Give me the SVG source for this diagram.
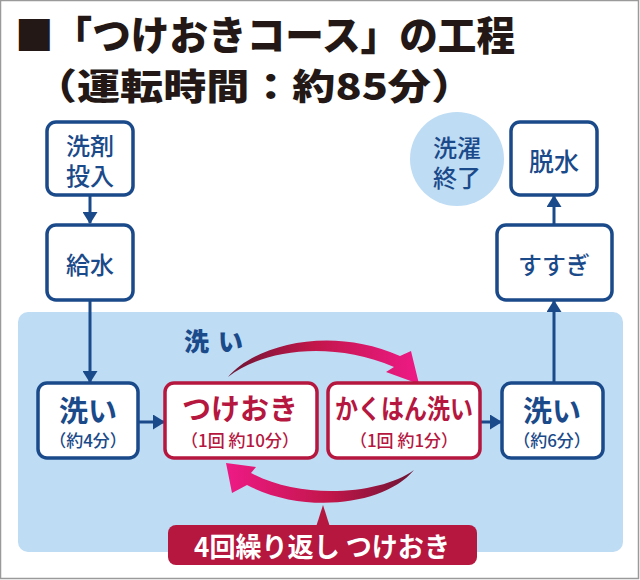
<svg xmlns="http://www.w3.org/2000/svg" width="640" height="580" viewBox="0 0 640 580">
<defs>
<style>
.t{font-family:"Noto Sans CJK JP","Noto Sans",sans-serif;dominant-baseline:central;text-anchor:middle}
.nb{fill:#fff;stroke:#1B4A8A;stroke-width:3.5}
.rb{fill:#fff;stroke:#B5173F;stroke-width:3.5}
.nt{fill:#1B4A8A;font-weight:700}
.rt{fill:#B5173F;font-weight:700}
.sub{font-weight:500;font-size:17px}
.con{stroke:#1B4A8A;stroke-width:3;fill:none;marker-end:url(#ah)}
</style>
<marker id="ah" markerUnits="userSpaceOnUse" markerWidth="12" markerHeight="15" refX="11" refY="7.5" orient="auto">
<path d="M0,0 L12,7.5 L0,15 z" fill="#1B4A8A"/>
</marker>
<linearGradient id="gTop" gradientUnits="userSpaceOnUse" x1="228" y1="0" x2="419" y2="0">
<stop offset="0" stop-color="#6E1534"/>
<stop offset="0.45" stop-color="#C2164A"/>
<stop offset="1" stop-color="#EE1A86"/>
</linearGradient>
<linearGradient id="gBot" gradientUnits="userSpaceOnUse" x1="414" y1="0" x2="226" y2="0">
<stop offset="0" stop-color="#6E1534"/>
<stop offset="0.45" stop-color="#C2164A"/>
<stop offset="1" stop-color="#EE1A86"/>
</linearGradient>
</defs>
<rect x="0" y="0" width="640" height="580" fill="#fff"/>
<rect x="0.5" y="0.5" width="638" height="578" fill="none" stroke="#9A9A9A" stroke-width="1.5"/>

<g id="title">
<text class="t" x="15" y="33" style="text-anchor:start;font-size:40px;font-weight:900;fill:#231815" textLength="500" lengthAdjust="spacingAndGlyphs">■「つけおきコース」の工程</text>
<text class="t" x="34" y="84" style="text-anchor:start;font-size:36px;font-weight:900;fill:#231815" textLength="440" lengthAdjust="spacingAndGlyphs">（運転時間：約85分）</text>
</g>

<g id="wash-panel">
<rect x="18" y="312" width="605" height="240" rx="10" fill="#BEDCF4"/>
<text class="t nt" x="184" y="340" style="text-anchor:start;font-size:25px;font-weight:900" letter-spacing="9">洗い</text>
</g>

<g id="end-circle">
<circle cx="457" cy="159" r="47" fill="#BEDCF4"/>
<text class="t nt" style="font-size:24px;font-weight:500"><tspan x="457" y="146">洗濯</tspan><tspan x="457" y="176">終了</tspan></text>
</g>

<g id="connectors">
<line class="con" x1="90" y1="195" x2="90" y2="223"/>
<line class="con" x1="90" y1="300" x2="90" y2="382"/>
<line class="con" x1="138" y1="422" x2="164" y2="422"/>
<line class="con" x1="480" y1="422" x2="501" y2="422"/>
<line class="con" x1="554" y1="382" x2="554" y2="301"/>
<line class="con" x1="554" y1="224" x2="554" y2="196"/>
<path d="M228,377 C255,345 330,325 400,356 L411,351 L419,384 L386,372 L394,367 C330,340 262,350 228,377 Z" fill="url(#gTop)"/>
<path d="M414,470 C385,505 305,515 247,485 L232,493 L226,463 L256,467 L251,473 C300,500 380,495 414,470 Z" fill="url(#gBot)"/>
<path d="M323,505 L316,527 L330,527 Z" fill="#B5173F"/>
</g>

<g id="n-detergent">
<rect class="nb" x="47" y="122" width="86" height="73" rx="9"/>
<text class="t nt" style="font-size:24px;font-weight:500"><tspan x="90" y="144">洗剤</tspan><tspan x="90" y="174">投入</tspan></text>
</g>

<g id="n-water">
<rect class="nb" x="47" y="225" width="86" height="75" rx="9"/>
<text class="t nt" x="90" y="263" style="font-size:24px;font-weight:500">給水</text>
</g>

<g id="n-wash1">
<rect class="nb" x="38" y="383" width="100" height="75" rx="9"/>
<text class="t nt"><tspan x="88" y="409" style="font-size:29px">洗い</tspan><tspan class="sub" x="88" y="439">（約4分）</tspan></text>
</g>

<g id="n-soak">
<rect class="rb" x="165" y="383" width="152" height="75" rx="9"/>
<text class="t rt"><tspan x="240" y="407" style="font-size:29px">つけおき</tspan><tspan class="sub" x="240" y="439">（1回 約10分）</tspan></text>
</g>

<g id="n-agitate">
<rect class="rb" x="328" y="383" width="152" height="75" rx="9"/>
<text class="t rt" x="404" y="407" style="font-size:27px" textLength="138" lengthAdjust="spacingAndGlyphs">かくはん洗い</text>
<text class="t rt sub" x="404" y="439">（1回 約1分）</text>
</g>

<g id="n-wash2">
<rect class="nb" x="502" y="383" width="101" height="75" rx="9"/>
<text class="t nt"><tspan x="552" y="409" style="font-size:29px">洗い</tspan><tspan class="sub" x="552" y="439">（約6分）</tspan></text>
</g>

<g id="n-rinse">
<rect class="nb" x="497" y="225" width="115" height="75" rx="9"/>
<text class="t nt" x="554" y="263" style="font-size:24px;font-weight:500">すすぎ</text>
</g>

<g id="n-spin">
<rect class="nb" x="511" y="122" width="86" height="73" rx="9"/>
<text class="t nt" x="554" y="160" style="font-size:25px;font-weight:500">脱水</text>
</g>

<g id="repeat-label">
<rect x="168" y="525" width="309" height="40" rx="8" fill="#B5173F"/>
<text class="t" x="322" y="545" style="font-size:27px;font-weight:700;fill:#fff" textLength="256" lengthAdjust="spacingAndGlyphs">4回繰り返し つけおき</text>
</g>
</svg>
